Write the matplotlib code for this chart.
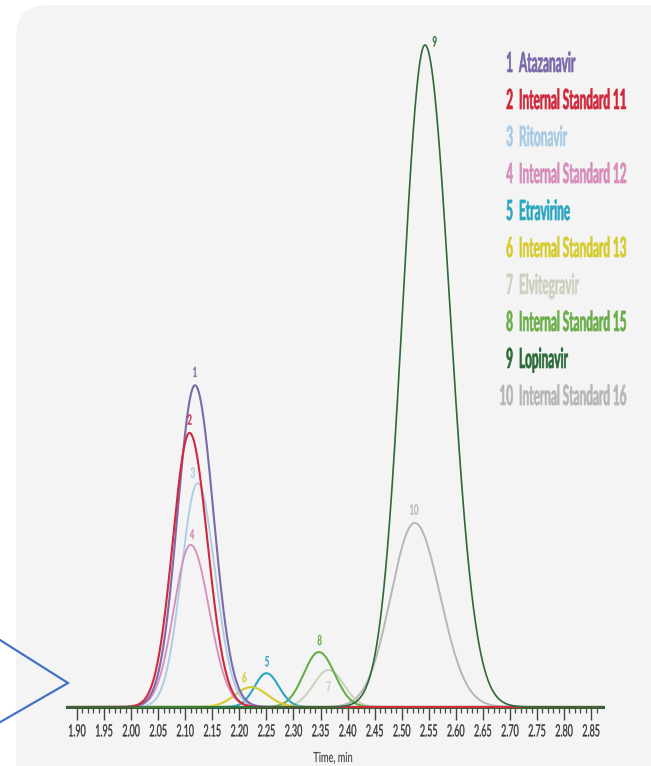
import numpy as np
import matplotlib
matplotlib.use("Agg")
import matplotlib.pyplot as plt
from matplotlib.patches import FancyBboxPatch
from matplotlib.lines import Line2D
from matplotlib.transforms import Affine2D, IdentityTransform
from matplotlib.patheffects import AbstractPathEffect

# ---- peak table (retention time in min, relative height, left/right widths) ----
peak_ids = ["1", "2", "3", "4", "5", "6", "7", "8", "9", "10"]
compounds = ["Atazanavir", "Internal Standard 11", "Ritonavir", "Internal Standard 12",
             "Etravirine", "Internal Standard 13", "Elvitegravir", "Internal Standard 15",
             "Lopinavir", "Internal Standard 16"]
retention = [2.118, 2.108, 2.123, 2.110, 2.250, 2.222, 2.365, 2.347, 2.543, 2.524]
heights = [48.6, 41.4, 33.8, 24.5, 5.1, 3.0, 5.6, 8.3, 100.0, 27.8]
sigma_left = [0.032, 0.031, 0.030, 0.031, 0.022, 0.030, 0.028, 0.028, 0.041, 0.044]
sigma_right = [0.034, 0.033, 0.032, 0.034, 0.023, 0.030, 0.028, 0.029, 0.046, 0.047]
colors = ["#7c69a9", "#d1283c", "#a9cbe4", "#d68dbb", "#2aa6c0", "#d6cb2c",
          "#cfcfc0", "#69ae4a", "#2c6a38", "#b6b6b6"]
line_widths = [1.5, 1.5, 1.3, 1.3, 1.5, 1.5, 1.4, 1.5, 1.2, 1.4]

tick_values = [1.90, 1.95, 2.00, 2.05, 2.10, 2.15, 2.20, 2.25, 2.30, 2.35, 2.40,
               2.45, 2.50, 2.55, 2.60, 2.65, 2.70, 2.75, 2.80, 2.85]
tick_labels = ["1.90", "1.95", "2.00", "2.05", "2.10", "2.15", "2.20", "2.25", "2.30",
               "2.35", "2.40", "2.45", "2.50", "2.55", "2.60", "2.65", "2.70", "2.75",
               "2.80", "2.85"]
x_label = "Time, min"

# label offsets (points) of the peak numbers relative to each apex
label_dx = [0, 0, -3.5, 1, 0.5, -5, 0, 0.5, 7, -0.5]
label_dy = [9.5, 9.5, 7.5, 7.5, 8.5, 7, -12, 8.5, 2.5, 9.5]

FONT = ["Lato", "DejaVu Sans"]


class TallType(AbstractPathEffect):
    """Stretch glyph outlines vertically (a condensed look), optionally outlined."""

    def __init__(self, sy, anchor="baseline", stroke=0.0):
        super().__init__()
        self.sy = sy
        self.anchor = anchor
        self.stroke = stroke

    def draw_path(self, renderer, gc, tpath, affine, rgbFace=None):
        v = tpath.vertices
        if len(v) == 0:
            return
        if self.anchor == "baseline":
            y0 = 0.0
        elif self.anchor == "top":
            y0 = v[:, 1].max()
        else:
            y0 = 0.5 * (v[:, 1].min() + v[:, 1].max())
        t = Affine2D().translate(0, -y0).scale(1.0, self.sy).translate(0, y0) + affine
        gc0 = renderer.new_gc()
        gc0.copy_properties(gc)
        if self.stroke > 0:
            gc0.set_linewidth(self.stroke)
            gc0.set_joinstyle("round")
        renderer.draw_path(gc0, tpath, t, rgbFace)
        gc0.restore()


W, H = 651, 766
fig = plt.figure(figsize=(W / 100, H / 100), dpi=100)
fig.patch.set_facecolor("white")

# light rounded panel behind the chromatogram
panel = FancyBboxPatch((16, -60), 720, 821, boxstyle="round,pad=0,rounding_size=32",
                       transform=IdentityTransform(), facecolor="#f4f4f4",
                       edgecolor="none", zorder=0)
fig.add_artist(panel)

# blue chevron at the left edge
chev = Line2D([-4, 68, -4], [H - 637.5, H - 683, H - 724.5], transform=IdentityTransform(),
              color="#4472c4", lw=1.6, solid_joinstyle="miter", zorder=1)
fig.add_artist(chev)

# axes: baseline at 707 px from top, 662 px per 100 units
px_per_unit = 6.62
ax_bottom_px, ax_top_px = 717, 10
ax = fig.add_axes([67 / W, (H - ax_bottom_px) / H, (603 - 67) / W,
                   (ax_bottom_px - ax_top_px) / H])
ax.set_facecolor("none")
ax.set_xlim(1.8815, 2.872)
ax.set_ylim(-10 / px_per_unit, (707 - ax_top_px) / px_per_unit)

t = np.linspace(1.8815, 2.872, 3000)
order = [9, 6, 7, 4, 5, 2, 3, 0, 1, 8]
for i in order:
    s = np.where(t < retention[i], sigma_left[i], sigma_right[i])
    y = heights[i] * np.exp(-0.5 * ((t - retention[i]) / s) ** 2)
    ax.plot(t, y, color=colors[i], lw=line_widths[i], zorder=3 + order.index(i) * 0.1,
            solid_capstyle="round")
    ann = ax.annotate(peak_ids[i], xy=(retention[i], heights[i]),
                      xytext=(label_dx[i], label_dy[i]), textcoords="offset points",
                      ha="center", va="center", fontsize=5.5, color=colors[i],
                      family=FONT, zorder=6)
    ann.set_path_effects([TallType(1.82, "center", 0.3)])

for side in ["top", "right", "left"]:
    ax.spines[side].set_visible(False)
ax.spines["bottom"].set_position(("data", 0))
ax.spines["bottom"].set_color("#2e5b2e")
ax.spines["bottom"].set_linewidth(2.2)
ax.spines["bottom"].set_zorder(2.5)
ax.set_yticks([])

ax.set_xticks(tick_values)
ax.set_xticklabels(tick_labels)
ax.set_xticks(np.round(np.arange(1.90, 2.8601, 0.01), 2), minor=True)
ax.tick_params(axis="x", which="major", direction="out", length=9.5, width=1.0,
               color="#3f4a3f", pad=2.5, labelsize=6.4, labelcolor="#333333")
ax.tick_params(axis="x", which="minor", direction="out", length=4.5, width=0.9,
               color="#3f4a3f")
for lbl in ax.get_xticklabels():
    lbl.set_family(FONT)
    lbl.set_path_effects([TallType(1.89, "top", 0.2)])

# axis title
xt = fig.text(333 / W, 1 - 762 / H, x_label, ha="center", va="baseline",
              fontsize=6.6, color="#444444", family=FONT)
xt.set_path_effects([TallType(1.52, "baseline", 0.1)])

# compound list
row0, row_step = 72, 37
for k in range(len(compounds)):
    yb = 1 - (row0 + k * row_step) / H
    n = fig.text(513 / W, yb, peak_ids[k], ha="right", va="baseline", fontsize=8.5,
                 color=colors[k], family=FONT, weight="bold")
    n.set_path_effects([TallType(2.35, "baseline", 0.45)])
    c = fig.text(519 / W, yb, compounds[k], ha="left", va="baseline", fontsize=8.5,
                 color=colors[k], family=FONT, weight="bold")
    c.set_path_effects([TallType(2.35, "baseline", 0.45)])

fig.savefig("out.png", dpi=100)
